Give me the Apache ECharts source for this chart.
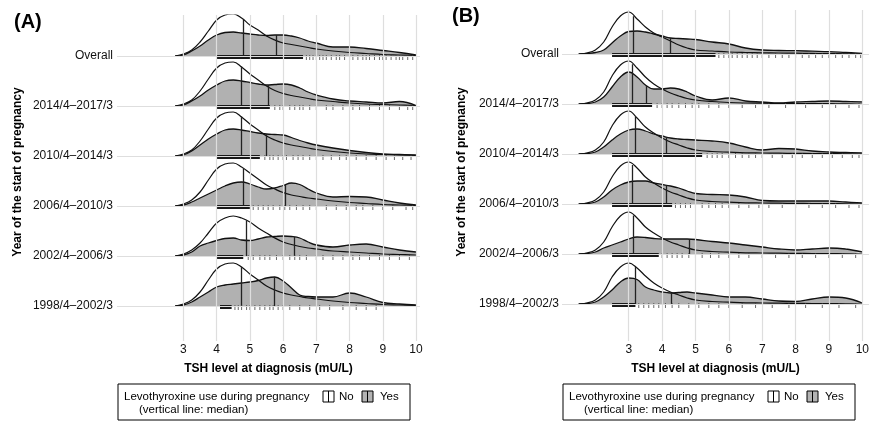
<!DOCTYPE html>
<html>
<head>
<meta charset="utf-8">
<script src="https://cdn.jsdelivr.net/npm/echarts@6/dist/echarts.min.js"></script>
<style>
  body { margin: 0; background: #fff; }
  #chart { width: 872px; height: 422px; }
</style>
</head>
<body>
<div id="chart"></div>
<script>
// rows, top to bottom
const rowNames = ['Overall', '2014/4–2017/3', '2010/4–2014/3', '2006/4–2010/3', '2002/4–2006/3', '1998/4–2002/3'];
const xTicks = [3, 4, 5, 6, 7, 8, 9, 10];

// panel A — TSH grid where the densities were read
const xA = [2.75, 3, 3.25, 3.5, 3.75, 4, 4.25, 4.5, 4.75, 5, 5.25, 5.5, 5.75, 6, 6.25, 6.5, 6.75, 7, 7.5, 8, 8.5, 9, 9.5, 10];
const noA = [
  [0, 2, 6, 14, 25, 36, 41, 42, 38, 31, 26, 20, 16, 13, 11.5, 10, 8.5, 7, 5, 3.5, 2.5, 1.5, 1, 0.5],
  [0, 2, 6, 15, 27, 38, 43, 44, 39, 32, 26, 20, 15.5, 12.5, 10.5, 9, 7.5, 6, 4.5, 3, 2, 1.5, 1, 0.5],
  [0, 2, 6, 15, 27, 38, 43, 44, 39, 32, 26, 20, 16, 13, 11, 9.5, 8, 6.5, 4.5, 3, 2, 1.5, 1, 0.5],
  [0, 2, 6, 14, 26, 37, 42, 43, 39, 33, 27, 21, 17, 13.5, 11, 9.5, 8, 7, 5, 3.5, 2.5, 1.5, 1, 0.5],
  [0, 2, 6, 13, 23, 33, 38, 40, 38, 34, 28, 23, 18, 14, 11.5, 9.5, 8, 7, 5, 4, 3, 2, 1.5, 1],
  [0, 2, 6, 14, 26, 37, 42, 43, 39, 32, 26, 20, 16, 13, 11, 9.5, 8, 7, 5, 3.5, 2.5, 1.5, 1, 0.5]
];
const yesA = [
  [0, 1, 5, 10, 16, 21, 23.5, 24, 23, 22, 21, 20.5, 21, 21, 20, 18, 15, 13, 9, 9, 7.5, 5.5, 3.5, 1],
  [0, 1, 5, 10, 16, 21, 25, 26, 25, 23.5, 22, 21, 21.5, 22, 21, 18, 14, 11, 7, 5, 4, 3, 4.5, 0.5],
  [0, 1, 5, 11, 17, 22, 26, 27, 26, 24.5, 23, 22, 21.5, 21, 18.5, 15.5, 13, 11, 8, 5.5, 3.5, 2, 1.5, 1],
  [0, 1, 4, 8, 12, 16, 20, 23, 24, 22, 19, 17, 18, 20.5, 23, 21.5, 17, 13, 9, 9.5, 9, 6, 3, 1],
  [0, 1, 4, 10, 13, 15.5, 17.5, 18, 16, 15.5, 17, 19, 19.5, 20, 19.5, 18, 14, 11, 9, 11, 12, 9, 6, 4],
  [0, 1, 4, 9, 14, 19, 21, 22, 23, 24, 25.5, 28, 29, 25, 18, 11, 9.5, 9, 9, 13, 9, 3.5, 2, 1]
];
const medNoA = [4.8, 4.73, 4.73, 4.8, 4.9, 4.73];
const medYesA = [5.8, 5.55, 5.5, 6.07, 6.33, 5.72];
const rugDenseA = [[4.0, 6.6], [4.0, 5.6], [4.0, 5.3], [4.0, 5.0], [4.0, 4.8], [4.1, 4.45]];
const rugA = [
  [6.7, 6.8, 6.9, 7.0, 7.1, 7.2, 7.3, 7.45, 7.6, 7.7, 7.85, 8.0, 8.1, 8.25, 8.4, 8.5, 8.6, 8.75, 8.9, 9.0, 9.1, 9.25, 9.4, 9.5, 9.6, 9.75, 9.9],
  [5.75, 5.9, 6.0, 6.2, 6.35, 6.5, 6.6, 6.8, 7.0, 7.3, 7.5, 7.8, 8.1, 8.3, 8.6, 8.9, 9.2, 9.5, 9.75, 9.9],
  [5.45, 5.6, 5.7, 5.85, 6.0, 6.1, 6.3, 6.45, 6.6, 6.8, 7.0, 7.2, 7.45, 7.7, 7.9, 8.2, 8.5, 8.8, 9.1, 9.35, 9.6, 9.85],
  [5.1, 5.25, 5.4, 5.55, 5.7, 5.9, 6.05, 6.2, 6.4, 6.6, 6.8, 7.0, 7.3, 7.6, 7.9, 8.2, 8.4, 8.7, 9.0, 9.3, 9.7, 9.9],
  [4.95, 5.1, 5.3, 5.45, 5.6, 5.8, 6.0, 6.2, 6.35, 6.5, 6.7, 7.0, 7.2, 7.5, 7.8, 8.1, 8.3, 8.6, 8.9, 9.2, 9.5, 9.8],
  [4.55, 4.65, 4.75, 4.9, 5.0, 5.15, 5.3, 5.45, 5.6, 5.7, 5.85, 6.0, 6.2, 6.5, 6.8, 7.1, 7.4, 7.8, 8.0, 8.2, 8.5, 8.8]
];

// panel B
const xB = [1.5, 1.75, 2, 2.25, 2.5, 2.75, 3, 3.25, 3.5, 3.75, 4, 4.25, 4.5, 4.75, 5, 5.5, 6, 6.5, 7, 7.5, 8, 8.5, 9, 9.5, 10];
const noB = [
  [0, 1, 4, 12, 27, 38, 42, 35, 27, 21, 17, 13, 9, 6, 4, 3, 2, 1.5, 1.2, 1, 0.8, 0.6, 0.4, 0.2, 0],
  [0, 1, 4, 12, 28, 39, 43, 36, 27, 20, 15, 11, 8, 5.5, 4, 2.5, 1.5, 1, 0.8, 0.6, 0.5, 0.4, 0.3, 0.2, 0],
  [0, 1, 4, 12, 28, 39, 43, 36, 27, 21, 16, 12, 9, 6, 4, 2.5, 1.8, 1.2, 1, 0.8, 0.6, 0.5, 0.4, 0.2, 0],
  [0, 1, 4, 12, 27, 38, 42, 36, 27, 21, 16, 12, 9, 6, 4, 2.5, 1.8, 1.2, 1, 0.8, 0.6, 0.5, 0.4, 0.2, 0],
  [0, 1, 4, 12, 27, 38, 42, 36, 27, 21, 16, 12, 9, 6, 4, 2.5, 1.8, 1.2, 1, 0.8, 0.6, 0.5, 0.4, 0.2, 0],
  [0, 1, 4, 12, 27, 37, 41, 36, 28, 21, 16, 12, 9, 6, 4, 2.5, 1.8, 1.2, 1, 0.8, 0.6, 0.5, 0.4, 0.2, 0]
];
const yesB = [
  [0, 0.5, 1.5, 4, 11, 18, 22.5, 23, 22, 20, 18, 16, 15.5, 15, 14.5, 12, 10, 6, 4, 3.5, 3.3, 2.8, 2.3, 1.5, 0.7],
  [0, 0.5, 2, 7, 17, 27, 32, 27, 19, 15, 15, 16, 15, 12, 8, 4, 6, 3, 2, 1, 2, 2.5, 3, 2.5, 2],
  [0, 0.5, 2, 7, 14, 20, 24, 25, 23, 20, 18, 16, 15, 14.5, 14, 13, 11, 7, 4, 5.5, 5, 3, 2, 1.5, 1],
  [0, 0.5, 2, 7, 14, 19, 22, 23, 23, 21, 19.5, 18, 16, 13, 10.5, 9.5, 9, 7, 3.5, 3, 3, 3, 3, 2, 1],
  [0, 0.5, 2, 6, 9, 12, 15, 17, 16.5, 15.5, 15, 15, 15, 15, 14.5, 12.5, 11, 9, 7, 5, 4, 5, 6, 5, 2],
  [0, 0.5, 2, 7, 14, 22, 26, 24.5, 17, 14, 12, 11, 11.5, 12, 11, 9, 7, 7, 5, 3, 2.5, 5, 7, 6, 1]
];
const medNoB = [3.15, 3.12, 3.2, 3.12, 3.15, 3.2];
const medYesB = [4.25, 3.53, 4.13, 4.12, 4.8, 4.28];
const rugDenseB = [[2.5, 5.6], [2.5, 3.7], [2.5, 5.2], [2.5, 4.3], [2.5, 3.9], [2.5, 3.2]];
const rugB = [
  [5.7, 5.85, 6.0, 6.1, 6.25, 6.4, 6.55, 6.7, 6.85, 7.0, 7.2, 7.4, 7.6, 7.8, 8.0, 8.2, 8.4, 8.6, 8.8, 9.0, 9.2, 9.4, 9.6, 9.8, 9.95],
  [3.85, 4.0, 4.15, 4.3, 4.5, 4.7, 4.9, 5.1, 5.4, 5.7, 6.0, 6.4, 6.8, 7.2, 7.7, 8.3, 8.8, 9.2, 9.6, 9.9],
  [5.35, 5.5, 5.65, 5.8, 6.0, 6.2, 6.4, 6.6, 6.8, 7.0, 7.3, 7.6, 7.9, 8.2, 8.5, 8.8, 9.1, 9.4, 9.7, 9.9],
  [4.4, 4.55, 4.7, 4.85, 5.0, 5.2, 5.4, 5.6, 5.8, 6.0, 6.3, 6.6, 6.9, 7.2, 7.6, 8.0, 8.4, 8.8, 9.2, 9.6, 9.9],
  [4.0, 4.15, 4.3, 4.45, 4.6, 4.8, 5.0, 5.2, 5.45, 5.7, 6.0, 6.3, 6.6, 7.0, 7.4, 7.8, 8.2, 8.6, 9.0, 9.4, 9.8],
  [3.3, 3.45, 3.6, 3.75, 3.9, 4.1, 4.3, 4.5, 4.8, 5.1, 5.4, 5.7, 6.0, 6.4, 6.8, 7.3, 7.8, 8.3, 8.8, 9.3, 9.8]
];

const rowGap = 50;
const font = 'Liberation Sans, Arial, sans-serif';
const gray = 'rgba(90,90,90,0.47)';

// curve height at a given TSH (for the median segments)
function heightAt(xs, ys, v) {
  for (let j = 0; j < xs.length - 1; j++) {
    if (v >= xs[j] && v <= xs[j + 1]) {
      const t = (v - xs[j]) / (xs[j + 1] - xs[j]);
      return ys[j] + t * (ys[j + 1] - ys[j]);
    }
  }
  return 0;
}

function panelSeries(p, xs, no, yes, medNo, medYes, dense, rug) {
  const bases = rowNames.map((n, i) => (rowNames.length - 1 - i) * rowGap);
  const out = [{
    type: 'line', xAxisIndex: p, yAxisIndex: p, data: [], silent: true, z: 1,
    markLine: {
      silent: true, symbol: ['none', 'none'], label: { show: false },
      lineStyle: { color: '#dedede', width: 1.2, type: 'solid' },
      data: xTicks.map(v => ({ xAxis: v })).concat(bases.map(b => ({ yAxis: b })))
    }
  }];
  rowNames.forEach((name, i) => {
    const base = bases[i];
    const common = { xAxisIndex: p, yAxisIndex: p, silent: true };
    out.push(Object.assign({}, common, {
      type: 'line', smooth: 0.4, symbol: 'none', z: 2,
      data: xs.map((v, j) => [v, base + no[i][j]]),
      lineStyle: { color: '#111', width: 1.2 },
      areaStyle: { color: '#fff', opacity: 1, origin: base }
    }));
    out.push(Object.assign({}, common, {
      type: 'line', smooth: 0.4, symbol: 'none', z: 2,
      data: xs.map((v, j) => [v, base + yes[i][j]]),
      lineStyle: { color: '#111', width: 1.3 },
      areaStyle: { color: gray, opacity: 1, origin: base }
    }));
    out.push(Object.assign({}, common, {
      type: 'lines', coordinateSystem: 'cartesian2d', z: 3,
      data: [
        { coords: [[medNo[i], base], [medNo[i], base + heightAt(xs, no[i], medNo[i])]] },
        { coords: [[medYes[i], base], [medYes[i], base + heightAt(xs, yes[i], medYes[i])]] }
      ],
      lineStyle: { color: '#222', width: 1.3, opacity: 1 }
    }));
    // dense part of the rug, as one solid band
    out.push(Object.assign({}, common, {
      type: 'custom', z: 3,
      data: [[dense[i][0], base, dense[i][1]]],
      renderItem: (params, api) => {
        const a = api.coord([api.value(0), api.value(1)]);
        const b = api.coord([api.value(2), api.value(1)]);
        return { type: 'rect', shape: { x: a[0], y: a[1] - 1, width: b[0] - a[0], height: 4 }, style: { fill: '#1a1a1a' } };
      }
    }));
    out.push(Object.assign({}, common, {
      type: 'scatter', symbol: 'rect', symbolSize: [1, 5], z: 3,
      data: rug[i].map(v => [v, base - 1.5]),
      itemStyle: { color: '#444' }
    }));
  });
  return out;
}

function xAxisOf(p, max) {
  return {
    type: 'value', gridIndex: p, min: 1, max: max,
    axisLine: { show: false }, axisTick: { show: false }, splitLine: { show: false },
    axisLabel: { customValues: xTicks, color: '#111', fontSize: 12, fontFamily: font, margin: 3 },
    name: 'TSH level at diagnosis (mU/L)', nameLocation: 'middle', nameGap: 22,
    nameTextStyle: { color: '#000', fontSize: 12, fontWeight: 'bold', fontFamily: font }
  };
}

function yAxisOf(p, min, max, margin) {
  return {
    type: 'value', gridIndex: p, min: min, max: max,
    axisLine: { show: false }, axisTick: { show: false }, splitLine: { show: false },
    axisLabel: {
      customValues: rowNames.map((n, i) => i * rowGap),
      formatter: v => rowNames[rowNames.length - 1 - Math.round(v / rowGap)],
      color: '#111', fontSize: 12, fontFamily: font, margin: margin,
      verticalAlign: 'middle', padding: [0, 0, 7, 0]
    }
  };
}

function legendBox(x, y, w) {
  const f = '11.5px ' + font;
  return {
    type: 'group', children: [
      { type: 'rect', shape: { x: x, y: y, width: w, height: 36 }, style: { fill: '#fff', stroke: '#000', lineWidth: 1 } },
      { type: 'text', x: x + 6, y: y + 12.5, style: { text: 'Levothyroxine use during pregnancy', font: f, fill: '#000', verticalAlign: 'middle' } },
      { type: 'text', x: x + 21, y: y + 25.5, style: { text: '(vertical line: median)', font: f, fill: '#000', verticalAlign: 'middle' } },
      { type: 'rect', shape: { x: x + 205, y: y + 7, width: 11, height: 11 }, style: { fill: '#fff', stroke: '#000', lineWidth: 1 } },
      { type: 'line', shape: { x1: x + 210.5, y1: y + 7, x2: x + 210.5, y2: y + 18 }, style: { stroke: '#000', lineWidth: 1 } },
      { type: 'text', x: x + 221, y: y + 12.5, style: { text: 'No', font: f, fill: '#000', verticalAlign: 'middle' } },
      { type: 'rect', shape: { x: x + 244, y: y + 7, width: 11, height: 11 }, style: { fill: '#b3b3b3', stroke: '#000', lineWidth: 1 } },
      { type: 'line', shape: { x1: x + 249.5, y1: y + 7, x2: x + 249.5, y2: y + 18 }, style: { stroke: '#000', lineWidth: 1 } },
      { type: 'text', x: x + 262, y: y + 12.5, style: { text: 'Yes', font: f, fill: '#000', verticalAlign: 'middle' } }
    ]
  };
}

const chart = echarts.init(document.getElementById('chart'), null, { renderer: 'canvas' });
chart.setOption({
  animation: false,
  backgroundColor: '#fff',
  grid: [
    { left: 117, width: 303, top: 15, height: 326 },
    { left: 562, width: 310, top: 10, height: 331 }
  ],
  xAxis: [xAxisOf(0, 10.12), xAxisOf(1, 10.2)],
  yAxis: [yAxisOf(0, -35, 291, 4), yAxisOf(1, -37, 294, 3)],
  graphic: [
    { type: 'text', x: 14, y: 12, style: { text: '(A)', font: 'bold 20px ' + font, fill: '#000' } },
    { type: 'text', x: 452, y: 6, style: { text: '(B)', font: 'bold 20px ' + font, fill: '#000' } },
    { type: 'text', x: 18, y: 172, rotation: Math.PI / 2, style: { text: 'Year of the start of pregnancy', font: 'bold 12px ' + font, fill: '#000', align: 'center', verticalAlign: 'middle' } },
    { type: 'text', x: 462, y: 172, rotation: Math.PI / 2, style: { text: 'Year of the start of pregnancy', font: 'bold 12px ' + font, fill: '#000', align: 'center', verticalAlign: 'middle' } },
    legendBox(118, 384, 292),
    legendBox(563, 384, 292)
  ],
  series: panelSeries(0, xA, noA, yesA, medNoA, medYesA, rugDenseA, rugA)
    .concat(panelSeries(1, xB, noB, yesB, medNoB, medYesB, rugDenseB, rugB))
});
</script>
</body>
</html>
